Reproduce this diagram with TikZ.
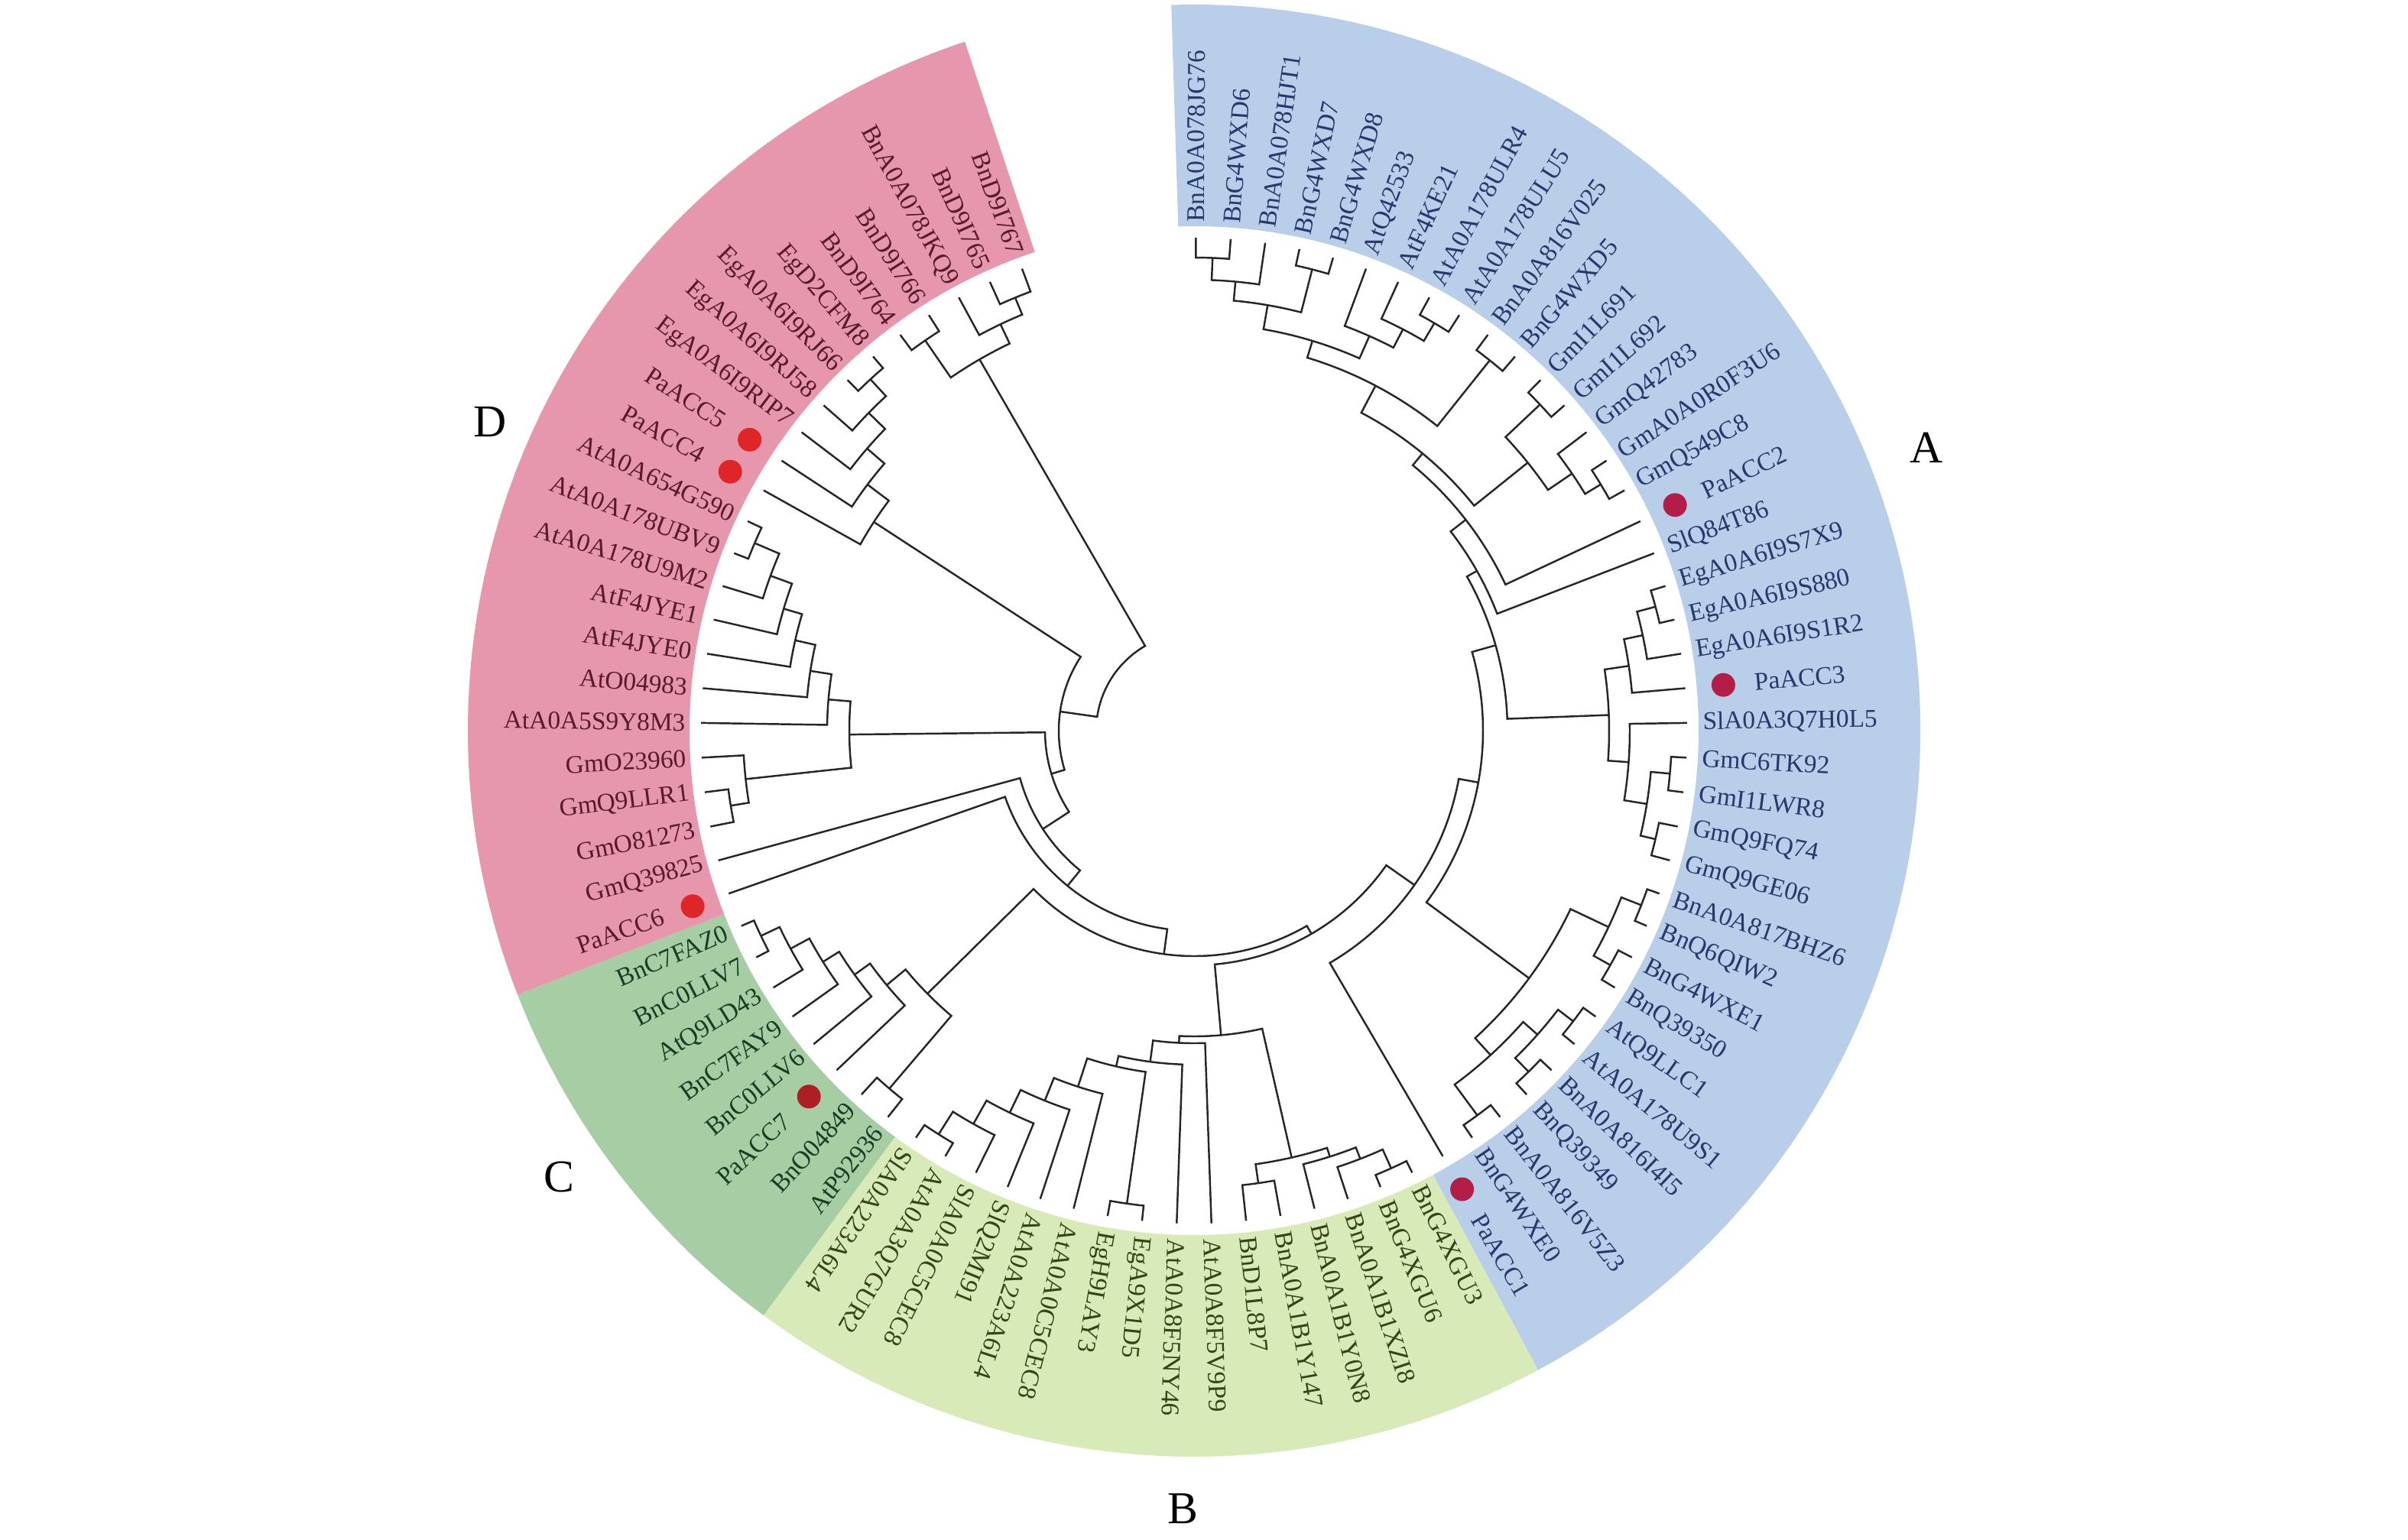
\documentclass[tikz,border=0pt]{standalone}
\usepackage{fontspec}
\setmainfont{Liberation Serif}
\usetikzlibrary{calc}
\definecolor{ringA}{RGB}{184,206,233}
\definecolor{ringB}{RGB}{216,234,184}
\definecolor{ringC}{RGB}{166,205,164}
\definecolor{ringD}{RGB}{230,151,172}
\definecolor{txtA}{RGB}{38,56,108}
\definecolor{txtB}{RGB}{50,68,24}
\definecolor{txtC}{RGB}{26,60,36}
\definecolor{txtD}{RGB}{88,26,44}
\definecolor{dotA}{RGB}{178,30,72}
\definecolor{dotC}{RGB}{172,32,36}
\definecolor{dotD}{RGB}{222,38,40}
\pgfmathdeclarefunction{la}{1}{\pgfmathparse{89.78-4.04*#1}}
\newcommand{\jn}[5]{\draw[branch] ({la(#2)}:#3) -- ({la(#2)}:#1) arc[start angle={la(#2)}, end angle={la(#4)}, radius=#1cm] -- ({la(#4)}:#5);}
\newcommand{\sect}[3]{\fill[#1] ({la(#2)}:6.6) arc[start angle={la(#2)}, end angle={la(#3)}, radius=6.6cm] -- ({la(#3)}:9.5) arc[start angle={la(#3)}, end angle={la(#2)}, radius=9.5cm] -- cycle;}

\begin{document}
\begin{tikzpicture}[branch/.style={black!85, line width=.7pt},
  leaf/.style={inner sep=0, font=\fontsize{9.5}{11}\selectfont},
  clade/.style={inner sep=0, font=\fontsize{17}{20}\selectfont}]
\useasboundingbox (-15.62,-10.58) rectangle (15.88,9.56);
\sect{ringA}{-0.5}{37.5}
\sect{ringB}{37.5}{53.5}
\sect{ringC}{53.5}{61.5}
\sect{ringD}{61.5}{84.5}
\node[clade] (cA) at (9.58,3.70) {A};
\node[clade] (cB) at (-0.15,-10.18) {B};
\node[clade] (cC) at (-8.31,-5.84) {C};
\node[clade] (cD) at (-9.21,4.04) {D};
\foreach \i/\t in {0/BnA0A078JG76,1/BnG4WXD6,2/BnA0A078HJT1,3/BnG4WXD7,4/BnG4WXD8,5/AtQ42533,6/AtF4KE21,7/AtA0A178ULR4,8/AtA0A178ULU5,9/BnA0A816V025,10/BnG4WXD5,11/GmI1L691,12/GmI1L692,13/GmQ42783,14/GmA0A0R0F3U6,15/GmQ549C8,17/SlQ84T86,18/EgA0A6I9S7X9,19/EgA0A6I9S880,20/EgA0A6I9S1R2,22/SlA0A3Q7H0L5,23/GmC6TK92,24/GmI1LWR8,25/GmQ9FQ74,26/GmQ9GE06,27/BnA0A817BHZ6,28/BnQ6QIW2,29/BnG4WXE1,30/BnQ39350,31/AtQ9LLC1,32/AtA0A178U9S1,33/BnA0A816I4I5,34/BnQ39349,35/BnA0A816V5Z3,36/BnG4WXE0,38/BnG4XGU3,39/BnG4XGU6,40/BnA0A1B1XZI8,41/BnA0A1B1Y0N8,42/BnA0A1B1Y147,43/BnD1L8P7,44/AtA0A8F5V9P9,45/AtA0A8F5NY46,46/EgA9X1D5,47/EgH9LAY3,48/AtA0A0C5CEC8,49/AtA0A223A6L4,50/SlQ2MI91,51/SlA0A0C5CEC8,52/AtA0A3Q7GUR2,53/SlA0A223A6L4,54/AtP92936,55/BnO04849,57/BnC0LLV6,58/BnC7FAY9,59/AtQ9LD43,60/BnC0LLV7,61/BnC7FAZ0,63/GmQ39825,64/GmO81273,65/GmQ9LLR1,66/GmO23960,67/AtA0A5S9Y8M3,68/AtO04983,69/AtF4JYE0,70/AtF4JYE1,71/AtA0A178U9M2,72/AtA0A178UBV9,73/AtA0A654G590,76/EgA0A6I9RIP7,77/EgA0A6I9RJ58,78/EgA0A6I9RJ66,79/EgD2CFM8,80/BnD9I764,81/BnD9I766,82/BnA0A078JKQ9,83/BnD9I765,84/BnD9I767}{
  \pgfmathsetmacro\a{89.78-4.04*\i}
  \ifnum\i<38 \def\cc{txtA}\else\ifnum\i<54 \def\cc{txtB}\else\ifnum\i<62 \def\cc{txtC}\else\def\cc{txtD}\fi\fi\fi
  \ifnum\i<54
    \node[leaf, text=\cc, anchor=west, rotate=\a] (lf\i) at (\a:6.65) {\t};
  \else
    \node[leaf, text=\cc, anchor=east, rotate=\a+180] (lf\i) at (\a:6.65) {\t};
  \fi
}
\foreach \i/\t/\dc/\cc in {16/PaACC2/dotA/txtA,21/PaACC3/dotA/txtA,37/PaACC1/dotA/txtA,56/PaACC7/dotC/txtC,62/PaACC6/dotD/txtD,74/PaACC4/dotD/txtD,75/PaACC5/dotD/txtD}{
  \pgfmathsetmacro\a{89.78-4.04*\i}
  \fill[\dc] (\a:6.95) circle (.155);
  \ifnum\i<54
    \node[leaf, text=\cc, anchor=west, rotate=\a] (lf\i) at (\a:7.35) {\t};
  \else
    \node[leaf, text=\cc, anchor=east, rotate=\a+180] (lf\i) at (\a:7.35) {\t};
  \fi
}
\jn{6.19}{0}{6.45}{1}{6.45}
\jn{5.90}{0.5}{6.19}{2}{6.45}
\jn{6.23}{3}{6.45}{4}{6.45}
\jn{5.65}{1.25}{5.90}{3.5}{6.23}
\jn{6.19}{7}{6.45}{8}{6.45}
\jn{5.92}{6}{6.45}{7.5}{6.19}
\jn{5.65}{5}{6.45}{6.75}{5.92}
\jn{5.33}{2.375}{5.65}{5.875}{5.65}
\jn{6.20}{9}{6.45}{10}{6.45}
\jn{5.10}{4.125}{5.33}{9.5}{6.20}
\jn{6.22}{11}{6.45}{12}{6.45}
\jn{6.22}{14}{6.45}{15}{6.45}
\jn{5.98}{13}{6.45}{14.5}{6.22}
\jn{5.60}{11.5}{6.22}{13.75}{5.98}
\jn{4.70}{6.8125}{5.10}{12.625}{5.60}
\jn{4.50}{9.71875}{4.70}{16}{6.45}
\jn{4.25}{12.859}{4.50}{17}{6.45}
\jn{6.25}{18}{6.45}{19}{6.45}
\jn{6.00}{18.5}{6.25}{20}{6.45}
\jn{5.75}{19.25}{6.00}{21}{6.45}
\jn{6.25}{23}{6.45}{24}{6.45}
\jn{6.20}{25}{6.45}{26}{6.45}
\jn{6.00}{23.5}{6.25}{25.5}{6.20}
\jn{5.70}{22}{6.45}{24.5}{6.00}
\jn{5.43}{20.125}{5.75}{23.25}{5.70}
\jn{4.10}{14.93}{4.25}{21.6875}{5.43}
\jn{6.28}{27}{6.45}{28}{6.45}
\jn{6.25}{29}{6.45}{30}{6.45}
\jn{6.00}{27.5}{6.28}{29.5}{6.25}
\jn{6.25}{31}{6.45}{32}{6.45}
\jn{6.25}{33}{6.45}{34}{6.45}
\jn{6.00}{31.5}{6.25}{33.5}{6.25}
\jn{6.25}{35}{6.45}{36}{6.45}
\jn{5.75}{32.5}{6.00}{35.5}{6.25}
\jn{5.45}{28.5}{6.00}{34}{5.75}
\jn{3.78}{18.309}{4.10}{31.25}{5.45}
\jn{3.52}{24.779}{3.78}{37}{6.45}
\jn{6.28}{38}{6.45}{39}{6.45}
\jn{6.01}{38.5}{6.28}{40}{6.45}
\jn{5.85}{39.25}{6.01}{41}{6.45}
\jn{5.98}{42}{6.45}{43}{6.45}
\jn{5.73}{40.125}{5.85}{42.5}{5.98}
\jn{6.25}{52}{6.45}{53}{6.45}
\jn{5.90}{51}{6.45}{52.5}{6.25}
\jn{5.55}{50}{6.45}{51.75}{5.90}
\jn{5.22}{49}{6.45}{50.875}{5.55}
\jn{4.90}{48}{6.45}{49.9375}{5.22}
\jn{6.25}{46}{6.45}{47}{6.45}
\jn{4.51}{46.5}{6.25}{48.969}{4.90}
\jn{4.37}{45}{6.45}{47.734}{4.51}
\jn{4.09}{44}{6.45}{46.367}{4.37}
\jn{4.00}{41.3125}{5.73}{45.184}{4.09}
\jn{6.27}{60}{6.45}{61}{6.45}
\jn{6.00}{59}{6.45}{60.5}{6.27}
\jn{5.72}{58}{6.45}{59.75}{6.00}
\jn{5.47}{57}{6.45}{58.875}{5.72}
\jn{5.22}{56}{6.45}{57.9375}{5.47}
\jn{6.15}{54}{6.45}{55}{6.45}
\jn{4.90}{54.5}{6.15}{56.969}{5.22}
\jn{3.07}{30.890}{3.52}{43.248}{4.00}
\jn{2.95}{37.069}{3.07}{55.734}{4.90}
\jn{2.62}{46.401}{2.95}{62}{6.45}
\jn{2.36}{54.201}{2.62}{63}{6.45}
\jn{6.14}{64}{6.45}{65}{6.45}
\jn{5.90}{64.5}{6.14}{66}{6.45}
\jn{6.25}{72}{6.45}{73}{6.45}
\jn{5.90}{71}{6.45}{72.5}{6.25}
\jn{5.60}{70}{6.45}{71.75}{5.90}
\jn{5.35}{69}{6.45}{70.875}{5.60}
\jn{5.08}{68}{6.45}{69.9375}{5.35}
\jn{4.80}{67}{6.45}{68.969}{5.08}
\jn{4.51}{65.25}{5.90}{67.984}{4.80}
\jn{1.95}{58.600}{2.36}{66.617}{4.51}
\jn{6.25}{78}{6.45}{79}{6.45}
\jn{5.95}{77}{6.45}{78.5}{6.25}
\jn{5.65}{76}{6.45}{77.75}{5.95}
\jn{5.35}{75}{6.45}{76.875}{5.65}
\jn{5.00}{74}{6.45}{75.9375}{5.35}
\jn{1.77}{62.609}{1.95}{74.969}{5.00}
\jn{6.20}{80}{6.45}{81}{6.45}
\jn{6.13}{83}{6.45}{84}{6.45}
\jn{5.89}{82}{6.45}{83.5}{6.13}
\jn{5.61}{80.5}{6.20}{82.75}{5.89}
\jn{1.28}{68.789}{1.77}{81.625}{5.61}
\end{tikzpicture}
\end{document}
